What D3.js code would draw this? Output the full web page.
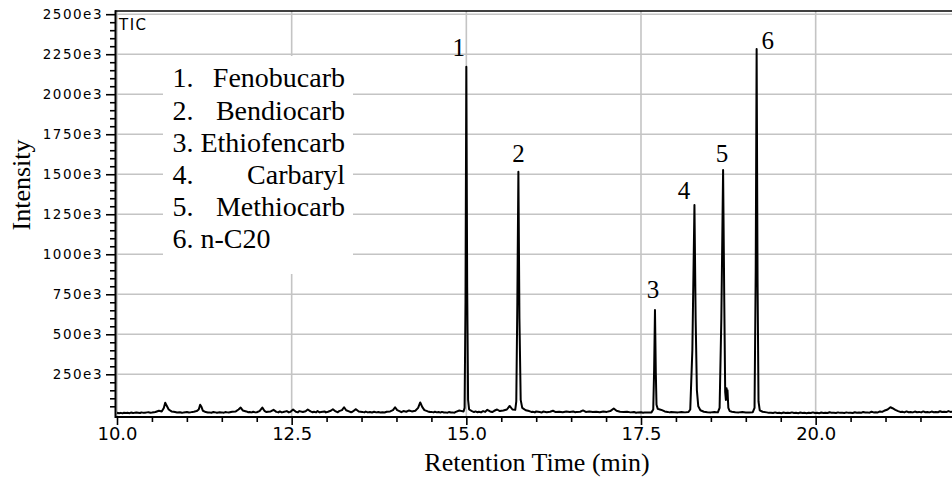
<!DOCTYPE html>
<html>
<head>
<meta charset="utf-8">
<script src="https://cdn.jsdelivr.net/npm/d3@7"></script>
<style>
  html, body { margin: 0; padding: 0; background: #fff; }
  svg { display: block; }
  .ylab { font-family: 'DejaVu Sans', sans-serif; font-size: 13.5px; letter-spacing: 1.5px; }
  .xlab { font-family: 'DejaVu Sans', sans-serif; font-size: 18px; }
</style>
</head>
<body>
<svg id="chart" width="952" height="479"></svg>
<script>
// ---------------- DATA ----------------
// Chromatogram trace: [retention time (min), intensity (x1e3)]
const tracePoints = [
  [10.00,10],[10.03,7],[10.05,9],[10.08,6],[10.10,10],[10.13,8],[10.15,9],[10.18,7],[10.20,11],[10.23,8],[10.25,9],[10.28,11],
  [10.30,10],[10.33,8],[10.35,12],[10.38,9],[10.40,10],[10.43,12],[10.45,13],[10.48,10],[10.50,11],[10.53,13],[10.55,14],
  [10.60,22],[10.64,18],[10.67,40],[10.69,72],[10.71,55],[10.74,30],[10.78,18],[10.81,16],[10.83,14],[10.86,11],
  [10.90,13],[10.93,10],[10.95,11],[10.98,13],[11.00,14],[11.03,11],[11.05,12],[11.08,15],[11.10,16],[11.14,20],[11.17,30],[11.19,60],[11.21,45],[11.23,22],
  [11.27,14],[11.30,11],[11.32,12],[11.35,10],[11.38,14],[11.41,12],[11.43,10],[11.47,13],[11.50,12],[11.53,10],[11.55,14],[11.58,12],[11.60,11],[11.63,14],[11.65,16],[11.70,18],[11.74,30],
  [11.77,42],[11.80,24],[11.85,18],[11.88,13],[11.90,14],[11.93,12],[11.95,16],[11.98,12],[12.00,13],[12.04,20],[12.08,42],[12.11,22],[12.14,14],[12.16,16],
  [12.20,18],[12.24,28],[12.28,15],[12.31,12],[12.33,18],[12.36,12],[12.38,14],[12.43,20],[12.46,12],[12.48,15],[12.52,30],[12.56,16],[12.59,12],[12.61,20],
  [12.66,14],[12.70,19],[12.73,30],[12.77,18],[12.80,13],[12.82,16],[12.85,12],[12.87,20],[12.90,12],[12.92,14],[12.97,18],[12.99,12],[13.02,16],[13.06,22],
  [13.09,32],[13.13,18],[13.16,13],[13.18,20],[13.22,26],[13.25,44],[13.28,25],[13.32,18],[13.35,13],[13.37,16],[13.42,32],[13.46,18],
  [13.51,15],[13.54,12],[13.56,17],[13.59,12],[13.62,14],[13.65,11],[13.68,16],[13.71,12],[13.74,14],[13.77,11],[13.80,13],[13.83,11],[13.86,16],[13.91,18],[13.95,26],[13.98,44],
  [14.01,26],[14.05,18],[14.07,13],[14.10,20],[14.14,16],[14.18,24],[14.22,18],[14.27,22],[14.31,40],[14.34,74],[14.37,45],
  [14.40,26],[14.45,18],[14.48,14],[14.50,15],[14.53,12],[14.55,16],[14.58,12],[14.60,14],[14.63,11],[14.65,15],[14.68,11],[14.70,12],[14.73,10],[14.75,14],[14.78,11],[14.80,12],[14.83,10],[14.85,15],
  [14.90,24],[14.93,20],[14.96,18],[14.975,40],[14.988,700],[15.00,2172],[15.012,800],[15.025,90],[15.04,30],[15.08,20],
  [15.11,14],[15.13,18],[15.16,13],[15.18,16],[15.21,12],[15.24,20],[15.27,15],[15.30,28],[15.34,18],[15.37,14],[15.40,22],[15.44,30],[15.48,20],[15.53,24],[15.58,30],
  [15.62,52],[15.66,30],[15.70,28],[15.715,80],[15.73,700],[15.745,1516],[15.76,600],[15.778,90],[15.80,40],[15.85,25],
  [15.90,20],[15.93,15],[15.95,16],[15.98,12],[16.00,18],[16.05,14],[16.08,11],[16.10,17],[16.15,13],[16.20,16],[16.24,22],[16.28,14],[16.33,16],
  [16.38,13],[16.43,17],[16.48,14],[16.53,18],[16.56,13],[16.58,15],[16.63,16],[16.67,24],[16.71,15],[16.76,17],[16.81,14],
  [16.86,16],[16.91,13],[16.96,18],[17.01,15],[17.06,20],[17.11,36],[17.15,22],[17.20,16],[17.25,14],[17.30,16],
  [17.35,12],[17.40,14],[17.43,10],[17.45,12],[17.50,13],[17.53,10],[17.55,11],[17.60,12],[17.65,12],[17.675,30],[17.688,280],[17.70,652],
  [17.712,260],[17.722,60],[17.74,34],[17.77,30],[17.80,26],[17.84,18],[17.88,15],[17.91,12],[17.93,14],[17.98,13],[18.03,12],
  [18.08,14],[18.13,12],[18.18,14],[18.205,30],[18.235,400],[18.265,1308],[18.282,600],[18.30,150],[18.32,50],[18.35,25],
  [18.40,16],[18.45,13],[18.50,12],[18.55,14],[18.60,12],[18.625,40],[18.65,600],[18.675,1527],[18.692,700],[18.705,140],
  [18.715,90],[18.725,162],[18.732,110],[18.738,150],[18.75,40],[18.77,20],[18.80,16],[18.85,13],[18.90,12],[18.95,14],
  [19.00,11],[19.05,12],[19.10,13],[19.125,40],[19.142,900],[19.155,2283],[19.168,850],[19.182,80],[19.20,25],[19.24,16],
  [19.30,12],[19.33,9],[19.36,10],[19.39,8],[19.42,12],[19.45,8],[19.48,9],[19.51,7],[19.54,11],[19.57,8],[19.60,10],[19.63,8],[19.66,12],[19.69,8],[19.72,9],[19.75,7],[19.78,11],[19.81,8],[19.84,9],
  [19.87,7],[19.90,10],[19.93,8],[19.96,12],[19.99,8],[20.02,9],[20.05,7],[20.08,11],[20.11,8],[20.14,10],[20.17,8],[20.20,13],[20.23,9],[20.26,10],[20.29,8],[20.32,12],[20.35,9],[20.38,9],[20.41,8],[20.44,12],
  [20.47,9],[20.50,10],[20.53,8],[20.56,13],[20.59,10],[20.62,11],[20.65,9],[20.68,14],[20.71,11],[20.74,12],[20.77,10],[20.80,16],[20.83,12],[20.86,13],[20.89,12],[20.92,18],[20.95,15],[20.98,22],[21.03,30],
  [21.07,44],[21.10,38],[21.14,28],[21.18,20],[21.21,15],[21.24,16],[21.27,12],[21.30,18],[21.33,13],[21.36,14],[21.39,12],[21.42,17],[21.45,13],[21.48,15],[21.51,12],[21.54,18],
  [21.57,13],[21.60,14],[21.63,12],[21.66,17],[21.69,13],[21.72,15],[21.75,13],[21.78,19],[21.81,14],[21.84,16],[21.87,14],[21.90,20],[21.93,15],[21.96,17],[22.00,18]
];

// Labelled peaks
const peakNumbers = ["1", "2", "3", "4", "5", "6"];
const peakTimes   = [15.00, 15.745, 17.70, 18.265, 18.675, 19.155];
const peakHeights = [2172, 1516, 652, 1308, 1527, 2283];

// Legend
const legendNumbers = ["1.", "2.", "3.", "4.", "5.", "6."];
const legendNames   = ["Fenobucarb", "Bendiocarb", "Ethiofencarb", "Carbaryl", "Methiocarb", "n-C20"];

// Axis ticks
const xMajorTicks = [10.0, 12.5, 15.0, 17.5, 20.0];
const xMinorTicks = [10.5, 11, 11.5, 12, 13, 13.5, 14, 14.5, 15.5, 16, 16.5, 17, 18, 18.5, 19, 19.5, 20.5, 21, 21.5];
const yMajorTicks = [250, 500, 750, 1000, 1250, 1500, 1750, 2000, 2250, 2500];
const yMinorTicks = [50,100,150,200,300,350,400,450,550,600,650,700,800,850,900,950,1050,1100,1150,1200,
                     1300,1350,1400,1450,1550,1600,1650,1700,1800,1850,1900,1950,2050,2100,2150,2200,
                     2300,2350,2400,2450];

const xTitle = "Retention Time (min)";
const yTitle = "Intensity";
const traceLabel = "TIC";

// ---------------- DRAWING ----------------
const svg = d3.select("#chart");
const x = d3.scaleLinear().domain([10, 22]).range([117, 955.4]);
const y = d3.scaleLinear().domain([-15, 2520]).range([416.7, 11]);

const gridColor = "#c4c4c4";
const serif = "'Liberation Serif', 'Times New Roman', serif";
const sans = "'DejaVu Sans', sans-serif";

// gridlines
svg.append("g").selectAll("line").data(yMajorTicks).join("line")
  .attr("x1", 116).attr("x2", 952)
  .attr("y1", d => y(d)).attr("y2", d => y(d))
  .attr("stroke", gridColor).attr("stroke-width", 1.6);
svg.append("g").selectAll("line").data(xMajorTicks).join("line")
  .attr("x1", d => x(d)).attr("x2", d => x(d))
  .attr("y1", 11).attr("y2", 416)
  .attr("stroke", gridColor).attr("stroke-width", 1.6);

// legend background
svg.append("rect").attr("x", 163).attr("y", 56).attr("width", 190).attr("height", 218).attr("fill", "#fff");

// trace
const line = d3.line().x(d => x(d[0])).y(d => y(d[1]));
svg.append("path").datum(tracePoints)
  .attr("d", line).attr("fill", "none")
  .attr("stroke", "#000").attr("stroke-width", 2).attr("stroke-linejoin", "round");

// frame top
svg.append("line").attr("x1", 115).attr("x2", 952).attr("y1", 11).attr("y2", 11)
  .attr("stroke", "#000").attr("stroke-width", 1.6);

// x axis
const xAxis = svg.append("g").attr("transform", "translate(0,417)")
  .call(d3.axisBottom(x).tickValues(xMajorTicks).tickSize(8).tickSizeOuter(0).tickPadding(2)
        .tickFormat(d3.format(".1f")));
xAxis.attr("font-size", null).attr("font-family", null);
xAxis.select(".domain").remove();
xAxis.selectAll(".tick line").attr("stroke", "#000").attr("stroke-width", 1.6);
xAxis.selectAll(".tick text").attr("class", "xlab").attr("fill", "#000");
const xMinor = svg.append("g").attr("transform", "translate(0,417)")
  .call(d3.axisBottom(x).tickValues(xMinorTicks).tickSize(5).tickSizeOuter(0).tickFormat(""));
xMinor.select(".domain").remove();
xMinor.selectAll(".tick line").attr("stroke", "#000").attr("stroke-width", 1.6);
svg.append("line").attr("x1", 115).attr("x2", 952).attr("y1", 417).attr("y2", 417)
  .attr("stroke", "#000").attr("stroke-width", 2);

// y axis
const yAxis = svg.append("g").attr("transform", "translate(116,0)")
  .call(d3.axisLeft(y).tickValues(yMajorTicks).tickSize(10).tickSizeOuter(0).tickPadding(3)
        .tickFormat(d => d + "e3"));
yAxis.attr("font-size", null).attr("font-family", null);
yAxis.select(".domain").remove();
yAxis.selectAll(".tick line").attr("stroke", "#000").attr("stroke-width", 1.6);
yAxis.selectAll(".tick text").attr("class", "ylab").attr("fill", "#000");
const yMinor = svg.append("g").attr("transform", "translate(116,0)")
  .call(d3.axisLeft(y).tickValues(yMinorTicks).tickSize(6).tickSizeOuter(0).tickFormat(""));
yMinor.select(".domain").remove();
yMinor.selectAll(".tick line").attr("stroke", "#000").attr("stroke-width", 1.6);
svg.append("line").attr("x1", 115.5).attr("x2", 115.5).attr("y1", 10.2).attr("y2", 418)
  .attr("stroke", "#000").attr("stroke-width", 2);

// TIC label
svg.append("text").attr("x", 119).attr("y", 30).attr("font-family", sans).attr("font-size", 15)
  .attr("letter-spacing", "1.5px").text(traceLabel);

// axis titles
svg.append("text").attr("x", 537).attr("y", 471).attr("text-anchor", "middle")
  .attr("font-family", serif).attr("font-size", 26).text(xTitle);
svg.append("text").attr("transform", "translate(30,185) rotate(-90)").attr("text-anchor", "middle")
  .attr("font-family", serif).attr("font-size", 26).text(yTitle);

// peak labels
const labelOffsets = [[-7.5, -10.7], [0, -10], [-2, -12], [-10.5, -6], [-1, -8], [11, 0]];
svg.append("g").selectAll("text").data(peakNumbers).join("text")
  .attr("x", (d, i) => x(peakTimes[i]) + labelOffsets[i][0])
  .attr("y", (d, i) => y(peakHeights[i]) + labelOffsets[i][1])
  .attr("text-anchor", "middle").attr("font-family", serif).attr("font-size", 25)
  .text(d => d);

// legend
const lg = svg.append("g").attr("font-family", serif).attr("font-size", 28);
legendNumbers.forEach((n, i) => {
  const by = 87.3 + i * 32.2;
  if (i === legendNumbers.length - 1) {
    lg.append("text").attr("x", 172.5).attr("y", by).text(n + " " + legendNames[i]);
  } else {
    lg.append("text").attr("x", 172.5).attr("y", by).text(n);
    lg.append("text").attr("x", 345).attr("y", by).attr("text-anchor", "end").text(legendNames[i]);
  }
});
</script>
</body>
</html>
